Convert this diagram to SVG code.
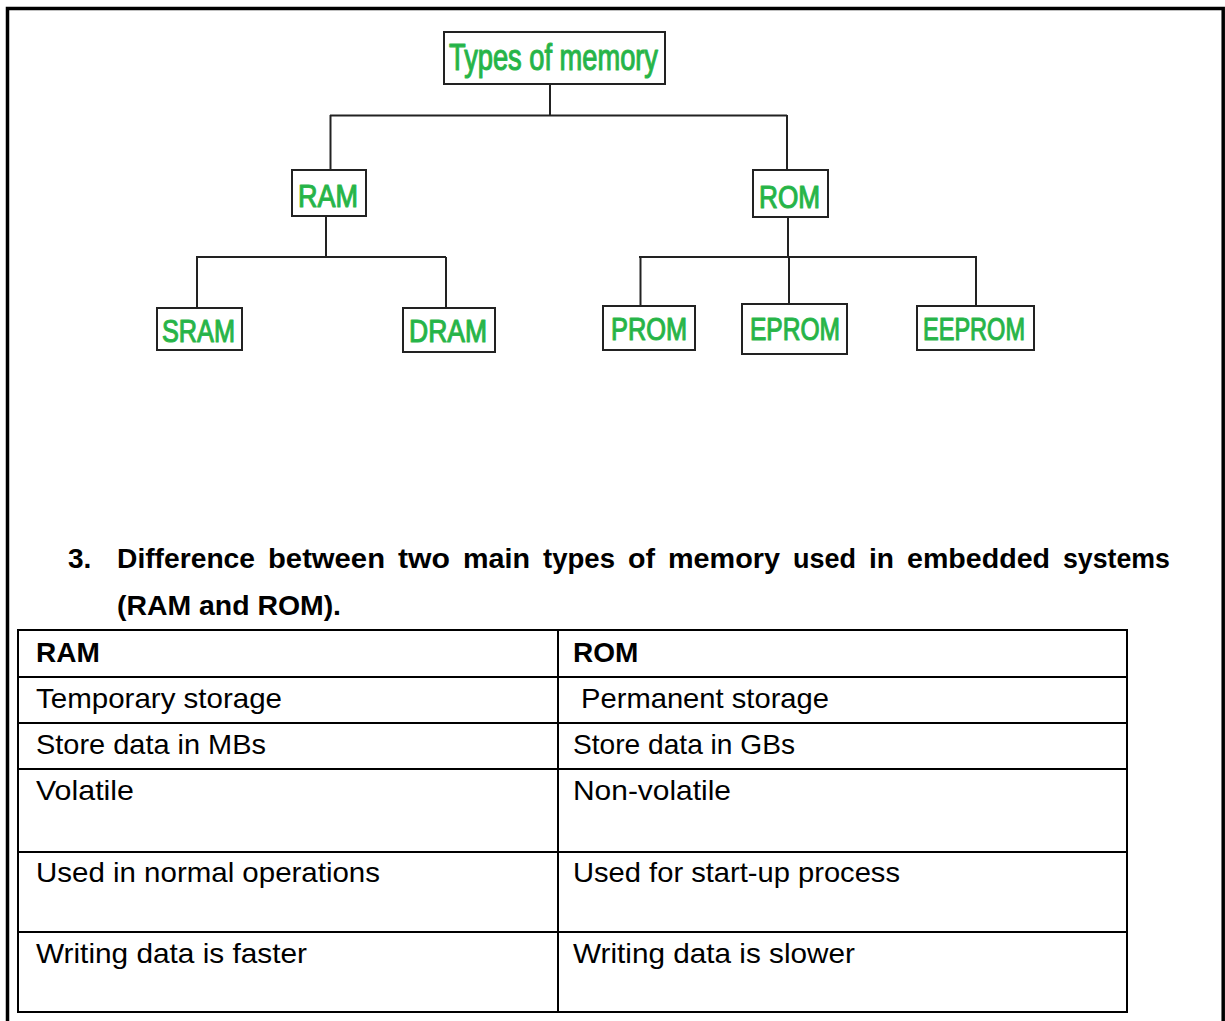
<svg xmlns="http://www.w3.org/2000/svg" width="1225" height="1021" viewBox="0 0 1225 1021">
  <style>
    .node rect { fill: #ffffff; stroke: #222222; stroke-width: 2; }
    .lbl { font-family: "Liberation Sans", Arial, sans-serif; fill: #22b24a; stroke: #2fb84a; stroke-width: 1.2; stroke-linejoin: round; }
    .wire { fill: none; stroke: #222222; stroke-width: 2; }
    .head { font-family: "Liberation Sans", Arial, sans-serif; font-weight: bold; font-size: 28px; fill: #000000; }
    .cell { font-family: "Liberation Sans", Arial, sans-serif; font-size: 28px; fill: #000000; }
    .cellb { font-family: "Liberation Sans", Arial, sans-serif; font-weight: bold; font-size: 28px; fill: #000000; }
    .grid { fill: none; stroke: #000000; stroke-width: 2; }
  </style>

  <rect x="0" y="0" width="1225" height="1021" fill="#ffffff"/>

  <!-- page frame (open at the bottom) -->
  <path d="M7.5 1021 V8.5 H1223.2 V1021" fill="none" stroke="#000000" stroke-width="3.5"/>

  <!-- tree connectors -->
  <g id="connectors" class="wire">
    <path d="M550 84 V116"/>
    <path d="M330 115.5 H787"/>
    <path d="M330.5 115 V170"/>
    <path d="M787 115 V170"/>
    <path d="M326 216 V257"/>
    <path d="M196 257 H446"/>
    <path d="M197 257 V308"/>
    <path d="M446 257 V308"/>
    <path d="M788 217 V257"/>
    <path d="M639 257 H977"/>
    <path d="M640.5 257 V306"/>
    <path d="M789 257 V304"/>
    <path d="M976 257 V306"/>
  </g>

  <!-- tree nodes -->
  <g id="types" class="node">
    <rect x="444" y="32" width="221" height="52"/>
    <text class="lbl" x="449" y="70" font-size="36" textLength="209" lengthAdjust="spacingAndGlyphs">Types of memory</text>
  </g>
  <g id="ram" class="node">
    <rect x="292" y="170" width="74" height="46"/>
    <text class="lbl" x="298" y="207" font-size="31" textLength="60" lengthAdjust="spacingAndGlyphs">RAM</text>
  </g>
  <g id="rom" class="node">
    <rect x="753" y="170" width="75" height="47"/>
    <text class="lbl" x="759" y="208" font-size="31" textLength="61" lengthAdjust="spacingAndGlyphs">ROM</text>
  </g>
  <g id="sram" class="node">
    <rect x="157" y="308" width="85" height="42"/>
    <text class="lbl" x="162" y="342" font-size="31" textLength="73" lengthAdjust="spacingAndGlyphs">SRAM</text>
  </g>
  <g id="dram" class="node">
    <rect x="403" y="308" width="92" height="44"/>
    <text class="lbl" x="409" y="342" font-size="31" textLength="78" lengthAdjust="spacingAndGlyphs">DRAM</text>
  </g>
  <g id="prom" class="node">
    <rect x="603" y="306" width="92" height="44"/>
    <text class="lbl" x="611" y="340" font-size="31" textLength="76" lengthAdjust="spacingAndGlyphs">PROM</text>
  </g>
  <g id="eprom" class="node">
    <rect x="742" y="304" width="105" height="50"/>
    <text class="lbl" x="750" y="340" font-size="31" textLength="90" lengthAdjust="spacingAndGlyphs">EPROM</text>
  </g>
  <g id="eeprom" class="node">
    <rect x="917" y="306" width="117" height="44"/>
    <text class="lbl" x="923" y="340" font-size="31" textLength="102" lengthAdjust="spacingAndGlyphs">EEPROM</text>
  </g>

  <!-- section heading: justified first line, one word per span -->
  <g id="heading" class="head">
    <text x="68" y="568">3.</text>
    <text x="117" y="568" textLength="138" lengthAdjust="spacingAndGlyphs">Difference</text>
    <text x="268" y="568" textLength="117" lengthAdjust="spacingAndGlyphs">between</text>
    <text x="398" y="568" textLength="52" lengthAdjust="spacingAndGlyphs">two</text>
    <text x="463" y="568" textLength="67" lengthAdjust="spacingAndGlyphs">main</text>
    <text x="543" y="568" textLength="72" lengthAdjust="spacingAndGlyphs">types</text>
    <text x="628" y="568" textLength="27" lengthAdjust="spacingAndGlyphs">of</text>
    <text x="668" y="568" textLength="112" lengthAdjust="spacingAndGlyphs">memory</text>
    <text x="793" y="568" textLength="63" lengthAdjust="spacingAndGlyphs">used</text>
    <text x="869" y="568" textLength="25" lengthAdjust="spacingAndGlyphs">in</text>
    <text x="907" y="568" textLength="143" lengthAdjust="spacingAndGlyphs">embedded</text>
    <text x="1063" y="568" textLength="107" lengthAdjust="spacingAndGlyphs">systems</text>
    <text x="117" y="615" textLength="224" lengthAdjust="spacingAndGlyphs">(RAM and ROM).</text>
  </g>

  <!-- comparison table -->
  <g id="table">
    <rect class="grid" x="18" y="630" width="1109" height="382"/>
    <path class="grid" d="M558 630 V1012 M18 677 H1127 M18 723 H1127 M18 769 H1127 M18 852 H1127 M18 932 H1127"/>
    <text class="cellb" x="36" y="662">RAM</text>
    <text class="cellb" x="573" y="662">ROM</text>
    <text class="cell" x="36" y="708" textLength="246" lengthAdjust="spacingAndGlyphs">Temporary storage</text>
    <text class="cell" x="581" y="708" textLength="248" lengthAdjust="spacingAndGlyphs">Permanent storage</text>
    <text class="cell" x="36" y="754" textLength="230" lengthAdjust="spacingAndGlyphs">Store data in MBs</text>
    <text class="cell" x="573" y="754" textLength="222" lengthAdjust="spacingAndGlyphs">Store data in GBs</text>
    <text class="cell" x="36" y="800" textLength="98" lengthAdjust="spacingAndGlyphs">Volatile</text>
    <text class="cell" x="573" y="800" textLength="158" lengthAdjust="spacingAndGlyphs">Non-volatile</text>
    <text class="cell" x="36" y="882" textLength="344" lengthAdjust="spacingAndGlyphs">Used in normal operations</text>
    <text class="cell" x="573" y="882" textLength="327" lengthAdjust="spacingAndGlyphs">Used for start-up process</text>
    <text class="cell" x="36" y="963" textLength="271" lengthAdjust="spacingAndGlyphs">Writing data is faster</text>
    <text class="cell" x="573" y="963" textLength="282" lengthAdjust="spacingAndGlyphs">Writing data is slower</text>
  </g>
</svg>
